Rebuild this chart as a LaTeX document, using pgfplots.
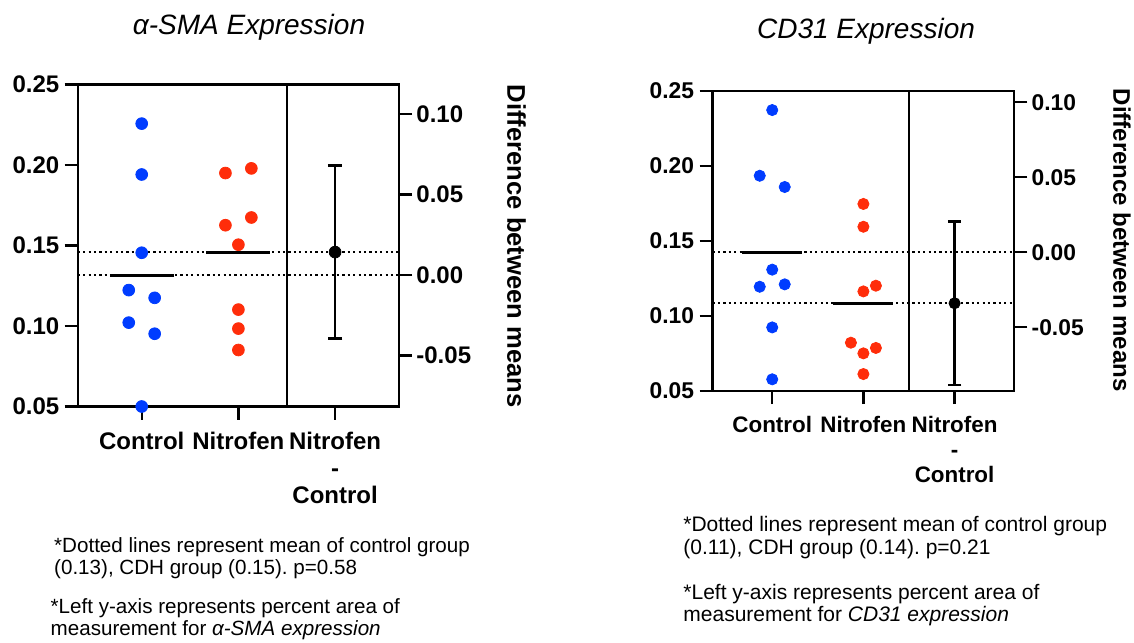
\documentclass[border=0pt]{standalone}
\usepackage{pgfplots}
\pgfplotsset{compat=1.18}
\usepackage{fontspec}
\setmainfont{Liberation Sans}
\frenchspacing
\definecolor{dotblue}{RGB}{0,60,255}
\definecolor{dotred}{RGB}{255,45,10}
\pgfplotsset{
  estim/.style={
    scale only axis, anchor=north west, clip=false,
    xmin=-0.662, xmax=2.661,
    axis line style={line width=1.15pt},
    major tick style={line width=1.15pt, black},
    tick align=outside, major tick length=6.5pt,
    /pgf/number format/assume math mode=true,
    yticklabel style={/pgf/number format/fixed, /pgf/number format/fixed zerofill, /pgf/number format/precision=2},
  },
  meandot/.style={line width=1.15pt, dash pattern=on 1.1pt off 1.6pt},
  meanline/.style={line width=1.4pt},
}
\begin{document}
\begin{tikzpicture}
\path[use as bounding box] (0,0) rectangle (567pt,-321pt);
% ---------------- left panel ----------------
\begin{axis}[estim, at={(38.85pt,-42.25pt)}, width=160.65pt, height=161pt,
  ymin=0.05, ymax=0.25, ytick={0.05,0.10,0.15,0.20,0.25}, ytick pos=left,
  xtick={0,1,2}, xtick pos=bottom,
  xticklabels={Control,Nitrofen,{Nitrofen\\-\\Control}},
  xticklabel style={align=center, font=\bfseries\fontsize{12}{13.5}\selectfont, yshift=-2.7pt},
  yticklabel style={font=\bfseries\fontsize{12}{14}\selectfont, inner sep=2.5pt}]
\addplot[meandot] coordinates {(-0.662,0.1316) (2.661,0.1316)};
\addplot[meandot] coordinates {(-0.662,0.1459) (2.661,0.1459)};
\addplot[line width=1.15pt] coordinates {(1.5,0.05) (1.5,0.25)};
\addplot[only marks, mark=*, mark size=2.95pt, dotblue] coordinates {
 (0,0.2257) (0,0.1941) (0,0.1455) (-0.134,0.1223) (0.134,0.1175) (-0.134,0.1021) (0.134,0.0952) (0,0.0500)};
\addplot[only marks, mark=*, mark size=2.95pt, dotred] coordinates {
 (0.866,0.1950) (1.134,0.1979) (0.866,0.1626) (1.134,0.1674) (1,0.1505) (1,0.1102) (1,0.0984) (1,0.0851)};
\addplot[meanline] coordinates {(-0.33,0.1316) (0.33,0.1316)};
\addplot[meanline] coordinates {(0.67,0.1459) (1.33,0.1459)};
\end{axis}
\begin{axis}[estim, at={(38.85pt,-42.25pt)}, width=160.65pt, height=161pt,
  ymin=-0.0816, ymax=0.1184, axis y line*=right, axis x line=none,
  ytick={-0.05,0,0.05,0.10},
  yticklabel style={font=\bfseries\fontsize{12}{14}\selectfont, inner sep=2pt},
  ylabel={Difference between means},
  ylabel style={at={(axis description cs:1.366,0.4975)}, anchor=center, rotate=180, font=\bfseries\fontsize{12.8}{14}\selectfont}]
\addplot[only marks, mark=*, mark size=2.95pt, black,
  error bars/.cd, y dir=both, y explicit,
  error mark options={rotate=90, mark size=3.6pt, line width=1.15pt, black},
  error bar style={line width=1.15pt, black}]
  coordinates {(2,0.0143) +- (0,0.0537)};
\end{axis}
% ---------------- right panel ----------------
\begin{axis}[estim, at={(356.25pt,-45.5pt)}, width=150.9pt, height=150pt,
  xmin=-0.655, xmax=2.655,
  ymin=0.05, ymax=0.25, ytick={0.05,0.10,0.15,0.20,0.25}, ytick pos=left,
  xtick={0,1,2}, xtick pos=bottom,
  xticklabels={Control,Nitrofen,{Nitrofen\\-\\Control}},
  xticklabel style={align=center, font=\bfseries\fontsize{11.2}{12.5}\selectfont, yshift=-2.7pt},
  yticklabel style={font=\bfseries\fontsize{11.4}{13}\selectfont, inner sep=2.5pt}]
\addplot[meandot] coordinates {(-0.655,0.1425) (2.655,0.1425)};
\addplot[meandot] coordinates {(-0.655,0.1085) (2.655,0.1085)};
\addplot[line width=1.15pt] coordinates {(1.5,0.05) (1.5,0.25)};
\addplot[only marks, mark=*, mark size=2.8pt, dotblue] coordinates {
 (0,0.2373) (-0.137,0.1935) (0.137,0.1860) (0,0.1309) (-0.137,0.1195) (0.137,0.1211) (0,0.0924) (0,0.0578)};
\addplot[only marks, mark=*, mark size=2.8pt, dotred] coordinates {
 (1,0.1747) (1,0.1595) (1,0.1164) (1.137,0.1202) (0.863,0.0822) (1,0.0751) (1.137,0.0787) (1,0.0613)};
\addplot[meanline] coordinates {(-0.33,0.1425) (0.33,0.1425)};
\addplot[meanline] coordinates {(0.67,0.1085) (1.33,0.1085)};
\end{axis}
\begin{axis}[estim, at={(356.25pt,-45.5pt)}, width=150.9pt, height=150pt,
  xmin=-0.655, xmax=2.655,
  ymin=-0.0925, ymax=0.1075, axis y line*=right, axis x line=none,
  ytick={-0.05,0,0.05,0.10},
  yticklabel style={font=\bfseries\fontsize{11.4}{13}\selectfont, inner sep=2pt},
  ylabel={Difference between means},
  ylabel style={at={(axis description cs:1.357,0.503)}, anchor=center, rotate=180, font=\bfseries\fontsize{12}{14}\selectfont}]
\addplot[only marks, mark=*, mark size=2.8pt, black,
  error bars/.cd, y dir=both, y explicit,
  error mark options={rotate=90, mark size=3.4pt, line width=1.15pt, black},
  error bar style={line width=1.15pt, black}]
  coordinates {(2,-0.034) +- (0,0.0545)};
\end{axis}
% ---------------- titles and notes ----------------
\node[anchor=base, font=\itshape\fontsize{14}{16}\selectfont] at (124.5pt,-17.5pt) {α-SMA Expression};
\node[anchor=base, font=\itshape\fontsize{14}{16}\selectfont] at (433pt,-19.15pt) {CD31 Expression};
\begin{scope}[every node/.style={anchor=base west, inner sep=0pt, font=\fontsize{10.3}{12}\selectfont}]
\node at (26.9pt,-276pt) {*Dotted lines represent mean of control group};
\node at (26.9pt,-287.25pt) {(0.13), CDH group (0.15). p=0.58};
\node at (25.15pt,-306.5pt) {*Left y-axis represents percent area of};
\node at (25.15pt,-317.75pt) {measurement for \textit{α-SMA expression}};
\end{scope}
\begin{scope}[every node/.style={anchor=base west, inner sep=0pt, font=\fontsize{10.5}{12}\selectfont}]
\node at (341.5pt,-265.85pt) {*Dotted lines represent mean of control group};
\node at (341.5pt,-277.15pt) {(0.11), CDH group (0.14). p=0.21};
\node at (341.5pt,-299.65pt) {*Left y-axis represents percent area of};
\node at (341.5pt,-310.85pt) {measurement for \textit{CD31 expression}};
\end{scope}
\end{tikzpicture}
\end{document}
